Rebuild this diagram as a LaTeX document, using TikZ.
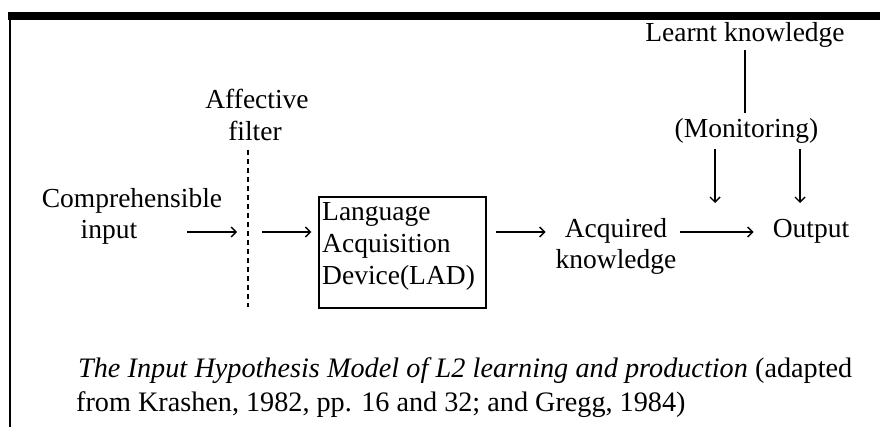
\documentclass[tikz,border=0pt]{standalone}
\usepackage{fontspec}
\setmainfont{Liberation Serif}
\usetikzlibrary{arrows.meta}
\begin{document}
\begin{tikzpicture}[x=1pt,y=-1pt,
  lbl/.style={inner sep=0pt, anchor=base, font=\fontsize{27.5}{32}\selectfont},
  lblw/.style={lbl, anchor=base west},
  capt/.style={inner sep=0pt, anchor=base west, font=\fontsize{28.2}{34}\selectfont},
  arr/.style={line width=1.4pt, -{Straight Barb[length=5pt,width=10pt,line width=1.4pt]}},
  plainline/.style={line width=1.4pt}]
\useasboundingbox (0,0) rectangle (880,427);
% frame
\fill[black] (8,12) rectangle (880,20);
\draw[line width=2pt] (10,20) -- (10,427);
% coordinates
\coordinate (row) at (0,232);
\coordinate (ftop) at (248,150);
\coordinate (fbot) at (248,307);
\coordinate (fmid) at (248,232);
\coordinate (dl) at (715,203);
\coordinate (dr) at (800,203);
% labels
\node[lbl] (learnt) at (745,42) {Learnt knowledge};
\node[lbl] (monit) at (746.5,138) {(Monitoring)};
\node[lbl] (comp1) at (132,208) {Comprehensible};
\node[lbl] (comp2) at (109,239) {input};
\node[lbl] (aff1) at (257,109) {Affective};
\node[lbl] (aff2) at (255,141) {filter};
\node[draw, line width=1.4pt, minimum width=167pt, minimum height=111pt, inner sep=0pt] (lad) at (402.5,252.5) {};
\node[lblw] (lad1) at (322,221) {Language};
\node[lblw] (lad2) at (322,253) {Acquisition};
\node[lblw] (lad3) at (322,285) {Device(LAD)};
\node[lbl] (acq1) at (616,238) {Acquired};
\node[lbl] (acq2) at (616,269) {knowledge};
\node[lbl] (output) at (811,238) {Output};
% filter
\draw[line width=1.5pt, dash pattern=on 5pt off 4pt] (ftop) -- (fbot);
% connectors
\draw[arr, shorten <=50pt, shorten >=11pt] (comp2.east |- row) -- (fmid);
\draw[arr, shorten <=14pt, shorten >=7pt] (fmid) -- (lad.west |- row);
\draw[arr, shorten <=9pt, shorten >=19pt] (lad.east |- row) -- (acq1.west |- row);
\draw[arr, shorten <=13pt, shorten >=19pt] (acq1.east |- row) -- (output.west |- row);
\draw[plainline, shorten <=2pt, shorten >=6pt] (learnt.south) -- (learnt.south |- monit.north);
\draw[arr, shorten <=5pt] (monit.south -| dl) -- (dl);
\draw[arr, shorten <=5pt] (monit.south -| dr) -- (dr);
% caption
\node[capt] (cap1) at (78,377) {\makebox[774pt][s]{\textit{The Input Hypothesis Model of L2 learning and production} (adapted}};
\node[capt] (cap2) at (76,411) {from Krashen, 1982, pp. 16 and 32; and Gregg, 1984)};
\end{tikzpicture}
\end{document}
